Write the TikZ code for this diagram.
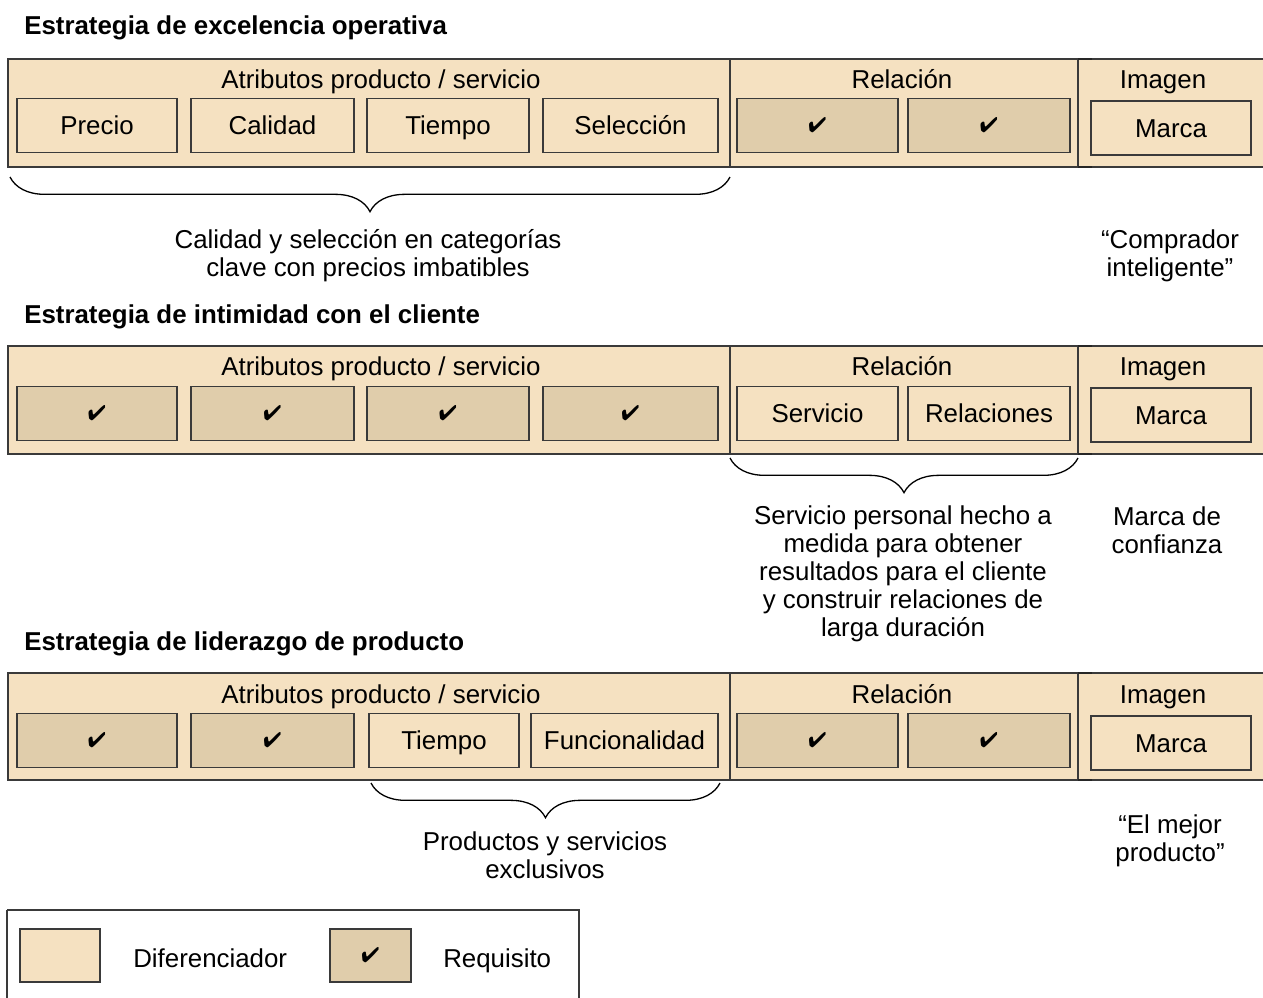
\documentclass[tikz,border=0pt]{standalone}
\usepackage{pifont}
\usepackage{fontspec}
\setmainfont{Liberation Sans}
\usetikzlibrary{decorations.pathreplacing}
\newdimen\upx \upx=0.75pt

\definecolor{difcol}{HTML}{F5E1C1}
\definecolor{reqcol}{HTML}{E0CDAB}
\definecolor{edgecol}{HTML}{3A3A3A}

\tikzset{
  txt/.style={font=\fontsize{19.4}{21}\selectfont, inner sep=0pt},
  oneline/.style={txt, text height=13.9pt, text depth=0pt},
  band/.style={draw=edgecol, fill=difcol, line width=1.6\upx},
  sep/.style={draw=edgecol, line width=1.6\upx},
  stub/.style={draw=black!85, line width=1.6\upx},
  cell/.style={oneline, draw=edgecol, line width=1.6\upx, minimum height=54\upx},
  difbox/.style={cell, fill=difcol},
  reqbox/.style={cell, fill=reqcol},
  head/.style={oneline},
  title/.style={font=\bfseries\fontsize{19.4}{21}\selectfont, anchor=west, inner sep=0pt, text height=13.9pt, text depth=0pt},
  note/.style={txt, align=center},
  brace/.style={decorate, decoration={brace, mirror, amplitude=26pt}, line width=1.3\upx},
}
\newcommand{\chk}{\raisebox{2pt}{\fontsize{16}{16}\selectfont\ding{52}}}

\begin{document}
\begin{tikzpicture}[x=0.75pt, y=-0.75pt]
\useasboundingbox (0,0) rectangle (1263,997);
\clip (0,0) rectangle (1263,997);

% ---------- Estrategia de excelencia operativa ----------
\node[title] (t1) at (24,25) {Estrategia de excelencia operativa};
\node[band, minimum width=1262\upx, minimum height=108\upx, inner sep=0pt] (b1) at (639,113) {};
\coordinate (s1a) at (730,59); \coordinate (s1b) at (730,167);
\coordinate (s1c) at (1078,59); \coordinate (s1d) at (1078,167);
\draw[sep] (s1a) -- (s1b);
\draw[sep] (s1c) -- (s1d);
\draw[stub] (s1c) -- ++(14,0) (s1d) -- ++(14,0);
\node[head] (h1a) at (381,79) {Atributos producto / servicio};
\node[head] (h1b) at (902,79) {Relación};
\node[head] (h1c) at (1163,79) {Imagen};
\node[difbox, minimum width=160\upx] (p1) at (97,125.5) {Precio};
\node[difbox, minimum width=163\upx] (p2) at (272.5,125.5) {Calidad};
\node[difbox, minimum width=162\upx] (p3) at (448,125.5) {Tiempo};
\node[difbox, minimum width=175\upx] (p4) at (630.5,125.5) {Selección};
\node[reqbox, minimum width=161\upx] (r1) at (817.5,125.5) {\chk};
\node[reqbox, minimum width=162\upx] (r2) at (989,125.5) {\chk};
\node[difbox, minimum width=160\upx] (m1) at (1171,128) {Marca};
\coordinate (k1a) at (10,177); \coordinate (k1b) at (730,177);
\draw[brace] (k1a) -- (k1b);
\node[note] (n1) at (368,256) {Calidad y selección en categorías\\clave con precios imbatibles};
\node[note] (n1b) at (1170,256) {“Comprador\\inteligente”};

% ---------- Estrategia de intimidad con el cliente ----------
\node[title] (t2) at (24,314) {Estrategia de intimidad con el cliente};
\node[band, minimum width=1262\upx, minimum height=108\upx, inner sep=0pt] (b2) at (639,400) {};
\coordinate (s2a) at (730,346); \coordinate (s2b) at (730,454);
\coordinate (s2c) at (1078,346); \coordinate (s2d) at (1078,454);
\draw[sep] (s2a) -- (s2b);
\draw[sep] (s2c) -- (s2d);
\draw[stub] (s2c) -- ++(14,0) (s2d) -- ++(14,0);
\node[head] (h2a) at (381,366) {Atributos producto / servicio};
\node[head] (h2b) at (902,366) {Relación};
\node[head] (h2c) at (1163,366) {Imagen};
\node[reqbox, minimum width=160\upx] (q1) at (97,413.5) {\chk};
\node[reqbox, minimum width=163\upx] (q2) at (272.5,413.5) {\chk};
\node[reqbox, minimum width=162\upx] (q3) at (448,413.5) {\chk};
\node[reqbox, minimum width=175\upx] (q4) at (630.5,413.5) {\chk};
\node[difbox, minimum width=161\upx] (v1) at (817.5,413.5) {Servicio};
\node[difbox, minimum width=162\upx] (v2) at (989,413.5) {Relaciones};
\node[difbox, minimum width=160\upx] (m2) at (1171,415) {Marca};
\coordinate (k2a) at (730,458); \coordinate (k2b) at (1078,458);
\draw[brace] (k2a) -- (k2b);
\node[note] (n2) at (903,574) {Servicio personal hecho a\\medida para obtener\\resultados para el cliente\\y construir relaciones de\\larga duración};
\node[note] (n2b) at (1167,530) {Marca de\\confianza};

% ---------- Estrategia de liderazgo de producto ----------
\node[title] (t3) at (24,641) {Estrategia de liderazgo de producto};
\node[band, minimum width=1262\upx, minimum height=107\upx, inner sep=0pt] (b3) at (639,726.5) {};
\coordinate (s3a) at (730,673); \coordinate (s3b) at (730,780);
\coordinate (s3c) at (1078,673); \coordinate (s3d) at (1078,780);
\draw[sep] (s3a) -- (s3b);
\draw[sep] (s3c) -- (s3d);
\draw[stub] (s3c) -- ++(14,0) (s3d) -- ++(14,0);
\node[head] (h3a) at (381,694) {Atributos producto / servicio};
\node[head] (h3b) at (902,694) {Relación};
\node[head] (h3c) at (1163,694) {Imagen};
\node[reqbox, minimum width=160\upx] (w1) at (97,740.5) {\chk};
\node[reqbox, minimum width=163\upx] (w2) at (272.5,740.5) {\chk};
\node[difbox, minimum width=150\upx] (w3) at (444,740.5) {Tiempo};
\node[difbox, minimum width=187\upx] (w4) at (624.5,740.5) {Funcionalidad};
\node[reqbox, minimum width=161\upx] (u1) at (817.5,740.5) {\chk};
\node[reqbox, minimum width=162\upx] (u2) at (989,740.5) {\chk};
\node[difbox, minimum width=160\upx] (m3) at (1171,743) {Marca};
\coordinate (k3a) at (371,783); \coordinate (k3b) at (720,783);
\draw[brace] (k3a) -- (k3b);
\node[note] (n3) at (545,855) {Productos y servicios\\exclusivos};
\node[note] (n3b) at (1170,841) {“El mejor\\producto”};

% ---------- Leyenda ----------
\draw[sep, fill=white] (7,910) -- (579,910) -- (579,1010) (7,1010) -- (7,910);
\node[difbox, minimum width=80\upx, minimum height=53\upx] (ld) at (60,955.5) {};
\node[oneline, anchor=west] (ldt) at (133,958) {Diferenciador};
\node[reqbox, minimum width=81\upx, minimum height=53\upx] (lr) at (370.5,955.5) {\chk};
\node[oneline, anchor=west] (lrt) at (443,958) {Requisito};
\end{tikzpicture}
\end{document}
